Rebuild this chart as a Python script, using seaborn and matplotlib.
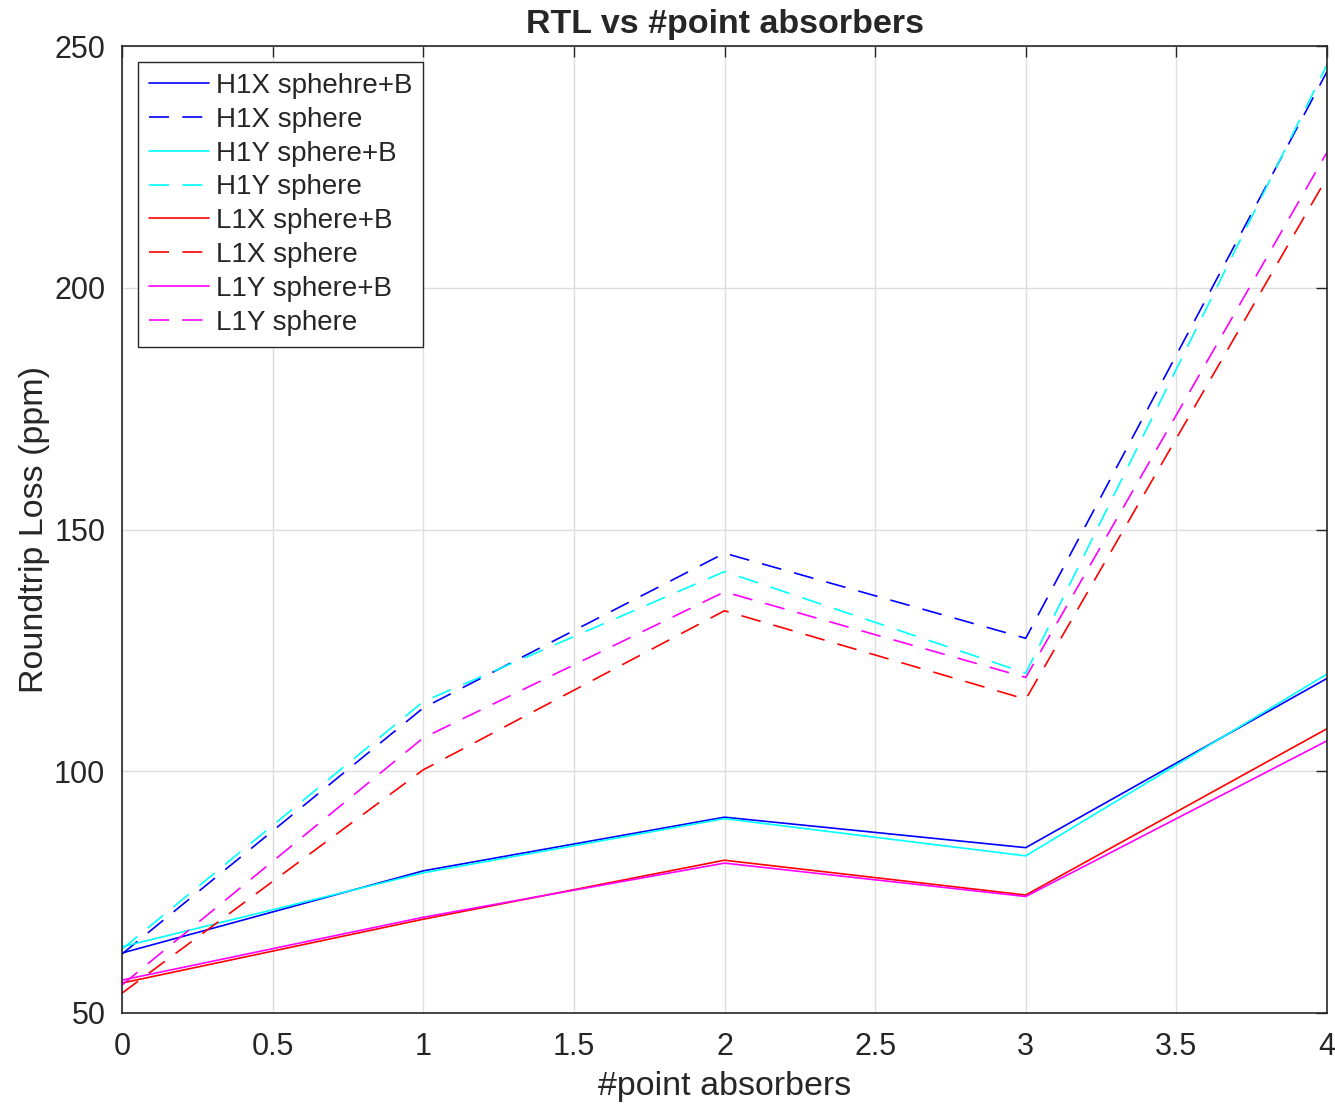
import numpy as np
import pandas as pd
import matplotlib
matplotlib.use("Agg")
import matplotlib.pyplot as plt
import seaborn as sns

x_vals = [0, 1, 2, 3, 4]
h1x_sphB = [62.4, 79.4, 90.5, 84.2, 119.2]
h1x_sph = [62.2, 113.1, 145.1, 127.5, 244.7]
h1y_sphB = [63.7, 79.0, 90.2, 82.5, 120.1]
h1y_sph = [63.2, 114.4, 141.3, 120.3, 246.1]
l1x_sphB = [56.2, 69.4, 81.6, 74.4, 108.8]
l1x_sph = [54.1, 100.3, 133.2, 114.9, 222.8]
l1y_sphB = [56.8, 69.8, 81.0, 74.1, 106.3]
l1y_sph = [55.8, 106.9, 137.1, 119.4, 228.0]

labels = ["H1X sphehre+B", "H1X sphere", "H1Y sphere+B", "H1Y sphere",
          "L1X sphere+B", "L1X sphere", "L1Y sphere+B", "L1Y sphere"]
series = [h1x_sphB, h1x_sph, h1y_sphB, h1y_sph, l1x_sphB, l1x_sph, l1y_sphB, l1y_sph]
colors = ["#0000ff", "#0000ff", "#00ffff", "#00ffff", "#ff0000", "#ff0000", "#ff00ff", "#ff00ff"]
dashed = [False, True, False, True, False, True, False, True]

sns.set_theme(style="white")
plt.rcParams['font.family'] = ['Liberation Sans', 'DejaVu Sans']

fig = plt.figure(figsize=(13.35, 11.04), dpi=100)
ax = fig.add_axes([122/1335, 91/1104, 1205/1335, 967/1104])

for lab, ys, c, d in zip(labels, series, colors, dashed):
    df = pd.DataFrame({"x": x_vals, "y": ys})
    sns.lineplot(data=df, x="x", y="y", ax=ax, color=c, linewidth=1.2, label=lab)
    line = ax.get_lines()[-1]
    if d:
        line.set_dashes((12, 8))

ax.set_xlim(0, 4)
ax.set_ylim(50, 250)
ax.set_xticks(np.arange(0, 4.01, 0.5))
ax.set_xticklabels(["0", "0.5", "1", "1.5", "2", "2.5", "3", "3.5", "4"])
ax.set_yticks([50, 100, 150, 200, 250])
ax.grid(True, color="#dddddd", linewidth=1.0)
ax.set_axisbelow(True)
for s in ax.spines.values():
    s.set_color("#262626")
    s.set_linewidth(1.2)
ax.tick_params(axis="both", direction="in", length=8, width=1.0, colors="#262626",
               labelsize=22, labelcolor="#262626", top=True, right=True)
ax.tick_params(axis="x", pad=14)
ax.tick_params(axis="y", pad=12)
ax.set_xlabel("#point absorbers", fontsize=24.5, color="#262626", labelpad=6)
ax.set_ylabel("Roundtrip Loss (ppm)", fontsize=24.5, color="#262626", labelpad=3)
ax.set_title("RTL vs #point absorbers", fontsize=24.5, fontweight="bold", pad=9)

leg = ax.legend(loc="upper left", fontsize=20, frameon=True, fancybox=False,
                edgecolor="#262626", handlelength=2.15, borderpad=0.4, labelspacing=0.28,
                handletextpad=0.25, borderaxespad=0, bbox_to_anchor=(0.0133, 0.9835))
leg.get_frame().set_linewidth(1.0)
leg.get_frame().set_alpha(1.0)

fig.savefig("out.png", dpi=100, facecolor="white")
